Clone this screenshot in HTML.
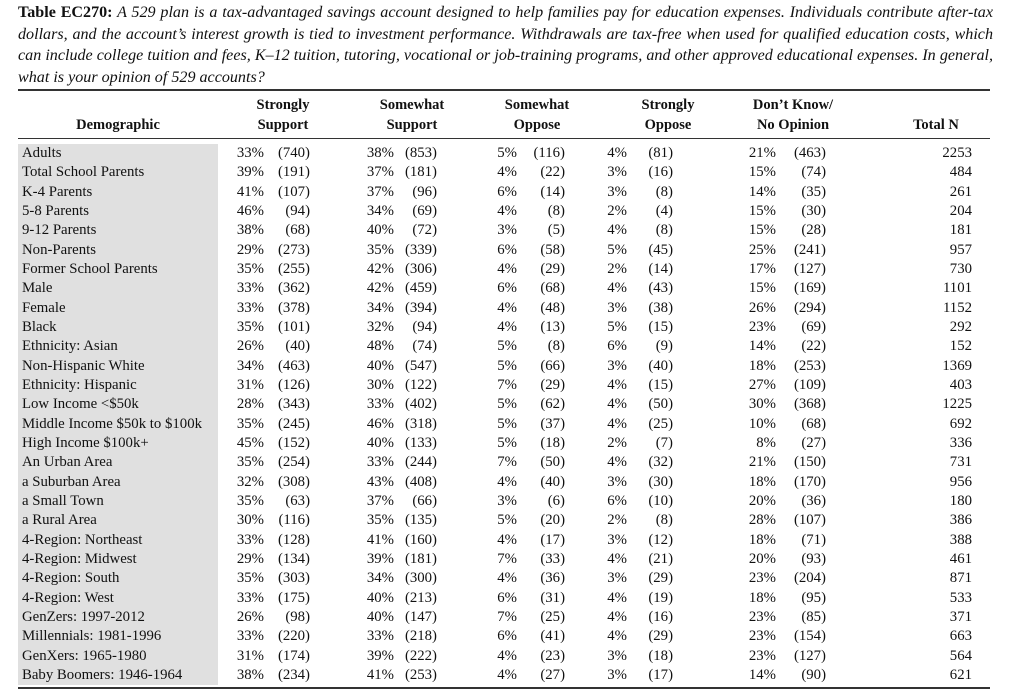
<!DOCTYPE html>
<html><head><meta charset="utf-8"><style>
body{margin:0;width:1024px;height:692px;background:#fff;overflow:hidden;font-family:"Liberation Serif",serif;color:#111;position:relative}
.t{position:absolute;left:18px;width:975px;font-size:16.1px;line-height:21.5px;top:2px;font-style:italic}
.t div{text-align:justify;text-align-last:justify;white-space:nowrap}
.t div.l{text-align-last:left}
.t b{font-style:normal}
.rule{position:absolute;left:18px;width:972px;background:#333}
.h{position:absolute;font-weight:bold;font-size:14.5px;text-align:center;line-height:20px}
.band{position:absolute;left:18px;width:200px;top:144px;height:541px;background:#e0e0e0}
.r{position:absolute;left:0;width:1024px;height:19px;font-size:14.8px;line-height:19px}
.r span{position:absolute;text-align:right;width:70px}
.r span.d{text-align:left;left:22px;width:200px}
</style></head><body>
<div class="t"><div><b>Table EC270:</b> A 529 plan is a tax-advantaged savings account designed to help families pay for education expenses. Individuals contribute after-tax</div><div>dollars, and the account’s interest growth is tied to investment performance. Withdrawals are tax-free when used for qualified education costs, which</div><div>can include college tuition and fees, K–12 tuition, tutoring, vocational or job-training programs, and other approved educational expenses. In general,</div><div class="l">what is your opinion of 529 accounts?</div></div>
<div class="rule" style="top:89px;height:2px"></div>
<div class="h" style="left:38px;width:160px;top:115px">Demographic</div>
<div class="h" style="left:223px;width:120px;top:95px">Strongly<br>Support</div>
<div class="h" style="left:352px;width:120px;top:95px">Somewhat<br>Support</div>
<div class="h" style="left:477px;width:120px;top:95px">Somewhat<br>Oppose</div>
<div class="h" style="left:608px;width:120px;top:95px">Strongly<br>Oppose</div>
<div class="h" style="left:733px;width:120px;top:95px">Don’t Know/<br>No Opinion</div>
<div class="h" style="left:876px;width:120px;top:115px">Total N</div>
<div class="rule" style="top:138px;height:1px"></div>
<div class="band"></div>
<div id="rows"></div>
<div class="rule" style="top:687px;height:2px"></div>
<script>
const d=[
["Adults","33%","(740)","38%","(853)","5%","(116)","4%","(81)","21%","(463)","2253"],
["Total School Parents","39%","(191)","37%","(181)","4%","(22)","3%","(16)","15%","(74)","484"],
["K-4 Parents","41%","(107)","37%","(96)","6%","(14)","3%","(8)","14%","(35)","261"],
["5-8 Parents","46%","(94)","34%","(69)","4%","(8)","2%","(4)","15%","(30)","204"],
["9-12 Parents","38%","(68)","40%","(72)","3%","(5)","4%","(8)","15%","(28)","181"],
["Non-Parents","29%","(273)","35%","(339)","6%","(58)","5%","(45)","25%","(241)","957"],
["Former School Parents","35%","(255)","42%","(306)","4%","(29)","2%","(14)","17%","(127)","730"],
["Male","33%","(362)","42%","(459)","6%","(68)","4%","(43)","15%","(169)","1101"],
["Female","33%","(378)","34%","(394)","4%","(48)","3%","(38)","26%","(294)","1152"],
["Black","35%","(101)","32%","(94)","4%","(13)","5%","(15)","23%","(69)","292"],
["Ethnicity: Asian","26%","(40)","48%","(74)","5%","(8)","6%","(9)","14%","(22)","152"],
["Non-Hispanic White","34%","(463)","40%","(547)","5%","(66)","3%","(40)","18%","(253)","1369"],
["Ethnicity: Hispanic","31%","(126)","30%","(122)","7%","(29)","4%","(15)","27%","(109)","403"],
["Low Income <$50k","28%","(343)","33%","(402)","5%","(62)","4%","(50)","30%","(368)","1225"],
["Middle Income $50k to $100k","35%","(245)","46%","(318)","5%","(37)","4%","(25)","10%","(68)","692"],
["High Income $100k+","45%","(152)","40%","(133)","5%","(18)","2%","(7)","8%","(27)","336"],
["An Urban Area","35%","(254)","33%","(244)","7%","(50)","4%","(32)","21%","(150)","731"],
["a Suburban Area","32%","(308)","43%","(408)","4%","(40)","3%","(30)","18%","(170)","956"],
["a Small Town","35%","(63)","37%","(66)","3%","(6)","6%","(10)","20%","(36)","180"],
["a Rural Area","30%","(116)","35%","(135)","5%","(20)","2%","(8)","28%","(107)","386"],
["4-Region: Northeast","33%","(128)","41%","(160)","4%","(17)","3%","(12)","18%","(71)","388"],
["4-Region: Midwest","29%","(134)","39%","(181)","7%","(33)","4%","(21)","20%","(93)","461"],
["4-Region: South","35%","(303)","34%","(300)","4%","(36)","3%","(29)","23%","(204)","871"],
["4-Region: West","33%","(175)","40%","(213)","6%","(31)","4%","(19)","18%","(95)","533"],
["GenZers: 1997-2012","26%","(98)","40%","(147)","7%","(25)","4%","(16)","23%","(85)","371"],
["Millennials: 1981-1996","33%","(220)","33%","(218)","6%","(41)","4%","(29)","23%","(154)","663"],
["GenXers: 1965-1980","31%","(174)","39%","(222)","4%","(23)","3%","(18)","23%","(127)","564"],
["Baby Boomers: 1946-1964","38%","(234)","41%","(253)","4%","(27)","3%","(17)","14%","(90)","621"]];
const ends=[264,310,394,437,517,565,627,673,776,826,972];
let h="";
d.forEach((r,i)=>{h+=`<div class="r" style="top:${144+i*19.33}px"><span class="d">${r[0].replace('<','&lt;')}</span>`;
for(let j=1;j<12;j++)h+=`<span style="left:${ends[j-1]-70}px">${r[j]}</span>`;h+="</div>";});
document.getElementById("rows").innerHTML=h;
</script>
</body></html>
